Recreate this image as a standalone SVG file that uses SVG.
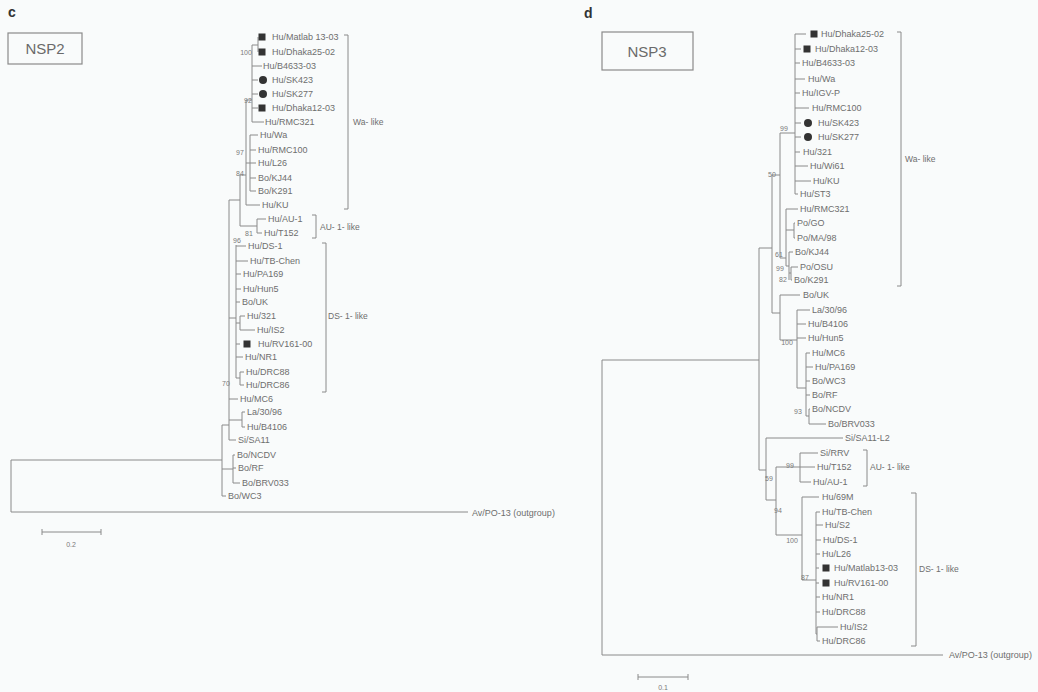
<svg xmlns="http://www.w3.org/2000/svg" width="1038" height="692" viewBox="0 0 1038 692">
<style>
.br{fill:none;stroke:#8a8a8a;stroke-width:1}
.bk{fill:none;stroke:#8a8a8a;stroke-width:1}
.lf{font-family:"Liberation Sans",Arial,sans-serif;font-size:9px;fill:#6e6e6e}
.bs{font-family:"Liberation Sans",Arial,sans-serif;font-size:7px;fill:#7a7a7a;text-anchor:middle}
.cl{font-family:"Liberation Sans",Arial,sans-serif;font-size:8.5px;fill:#6e6e6e}
.pl{font-family:"Liberation Sans",Arial,sans-serif;font-size:14px;font-weight:bold;fill:#333}
.tt{font-family:"Liberation Sans",Arial,sans-serif;font-size:15px;fill:#6a6a6a;text-anchor:middle}
.box{fill:none;stroke:#8a8a8a;stroke-width:1.2}
.sq{fill:#333}
.ci{fill:#333}
</style>
<defs>
<rect id="sqm" x="-3.5" y="-3.5" width="7" height="7" class="sq"/>
<circle id="cim" r="4" class="ci"/>
</defs>
<rect width="1038" height="692" fill="#f9fbfb"/>

<!-- Panel c -->
<g id="panel-c-title">
<text class="pl" x="8" y="17">c</text>
<rect class="box" x="8" y="33" width="74" height="31"/>
<text class="tt" x="45" y="54">NSP2</text>
</g>

<g id="connectors-c">
<path class="br" d="M11 460V512M11 460H222M11 512H468
M222 425V496M222 496H226M222 425H229M222 469H233
M229 200V440M229 440H236
M233 455V483M233 455H235M233 468H236M233 483H240
M229 200H240M240 175V226M240 175H246M240 226H257
M257 219V233M257 219H266M257 233H262
M246 100V205M246 100H252M246 163H250M246 205H260
M252 45V122M252 45H258M258 37V52M252 66H262M252 80H258M252 94H258M252 108H258M252 122H264
M250 135V191M250 135H258M250 150H256M250 163H256M250 178H256M250 191H256
M229 318H236M236 245V378M236 246H246M236 261H248M236 274H241M236 289H241M236 302H240
M236 323H240M240 316V330M240 316H245M240 330H255
M236 344H240M236 357H243M236 378H240M240 372V385M240 372H244M240 385H244
M229 399H238M229 420H242M242 412V427M242 412H245M242 427H245"/>
<path class="bk" d="M344 35H348V209H344M312 215H316V238H312M322 243H326V392H322"/>
<path class="br" d="M42 532H101M42 529V535M101 529V535"/>
</g>

<g id="leaves-c">
<g id="c-matlab"><use href="#sqm" x="262" y="37"/><text class="lf" x="272" y="40">Hu/Matlab 13-03</text></g>
<g id="c-dhaka25"><use href="#sqm" x="262" y="52"/><text class="lf" x="272" y="55">Hu/Dhaka25-02</text></g>
<g id="c-b4633"><text class="lf" x="263" y="69">Hu/B4633-03</text></g>
<g id="c-sk423"><use href="#cim" x="263" y="80"/><text class="lf" x="272" y="83">Hu/SK423</text></g>
<g id="c-sk277"><use href="#cim" x="263" y="94"/><text class="lf" x="272" y="97">Hu/SK277</text></g>
<g id="c-dhaka12"><use href="#sqm" x="262" y="108"/><text class="lf" x="272" y="111">Hu/Dhaka12-03</text></g>
<g id="c-rmc321"><text class="lf" x="265" y="125">Hu/RMC321</text></g>
<g id="c-wa"><text class="lf" x="260" y="138">Hu/Wa</text></g>
<g id="c-rmc100"><text class="lf" x="258" y="153">Hu/RMC100</text></g>
<g id="c-l26"><text class="lf" x="258" y="166">Hu/L26</text></g>
<g id="c-kj44"><text class="lf" x="258" y="181">Bo/KJ44</text></g>
<g id="c-k291"><text class="lf" x="258" y="194">Bo/K291</text></g>
<g id="c-ku"><text class="lf" x="262" y="208">Hu/KU</text></g>
<g id="c-au1"><text class="lf" x="268" y="222">Hu/AU-1</text></g>
<g id="c-t152"><text class="lf" x="264" y="236">Hu/T152</text></g>
<g id="c-ds1"><text class="lf" x="248" y="249">Hu/DS-1</text></g>
<g id="c-tb"><text class="lf" x="250" y="264">Hu/TB-Chen</text></g>
<g id="c-pa169"><text class="lf" x="243" y="277">Hu/PA169</text></g>
<g id="c-hun5"><text class="lf" x="243" y="292">Hu/Hun5</text></g>
<g id="c-uk"><text class="lf" x="242" y="305">Bo/UK</text></g>
<g id="c-321"><text class="lf" x="247" y="319">Hu/321</text></g>
<g id="c-is2"><text class="lf" x="257" y="333">Hu/IS2</text></g>
<g id="c-rv161"><use href="#sqm" x="247" y="344"/><text class="lf" x="258" y="347">Hu/RV161-00</text></g>
<g id="c-nr1"><text class="lf" x="245" y="360">Hu/NR1</text></g>
<g id="c-drc88"><text class="lf" x="246" y="375">Hu/DRC88</text></g>
<g id="c-drc86"><text class="lf" x="246" y="388">Hu/DRC86</text></g>
<g id="c-mc6"><text class="lf" x="240" y="402">Hu/MC6</text></g>
<g id="c-la30"><text class="lf" x="247" y="415">La/30/96</text></g>
<g id="c-b4106"><text class="lf" x="247" y="430">Hu/B4106</text></g>
<g id="c-sa11"><text class="lf" x="238" y="443">Si/SA11</text></g>
<g id="c-ncdv"><text class="lf" x="237" y="458">Bo/NCDV</text></g>
<g id="c-rf"><text class="lf" x="238" y="471">Bo/RF</text></g>
<g id="c-brv033"><text class="lf" x="242" y="486">Bo/BRV033</text></g>
<g id="c-wc3"><text class="lf" x="228" y="499">Bo/WC3</text></g>
<g id="c-po13"><text class="lf" x="472" y="516">Av/PO-13 (outgroup)</text></g>
</g>

<g id="labels-c">
<text class="bs" x="246" y="55">100</text>
<text class="bs" x="248" y="103">92</text>
<text class="bs" x="240" y="155">97</text>
<text class="bs" x="240" y="176">84</text>
<text class="bs" x="249" y="236">81</text>
<text class="bs" x="237" y="243">96</text>
<text class="bs" x="226" y="386">70</text>
<text class="cl" x="353" y="125">Wa- like</text>
<text class="cl" x="320" y="230">AU- 1- like</text>
<text class="cl" x="328" y="319">DS- 1- like</text>
<text class="bs" x="71" y="547">0.2</text>
</g>

<!-- Panel d -->
<g id="panel-d-title">
<text class="pl" x="584" y="18">d</text>
<rect class="box" x="602" y="32" width="91" height="38"/>
<text class="tt" x="647" y="57">NSP3</text>
</g>

<g id="connectors-d">
<path class="br" d="M602 360V655M602 360H759M602 655H943
M759 248V470M759 248H772M759 470H766
M772 175V313M772 175H780M772 313H780
M780 133V258M780 133H795M780 258H786
M795 34V194M795 34H806M795 49H801M795 63H800M795 79H805M795 93H800M795 108H809M795 123H801M795 137H801M795 152H800M795 166H808M795 181H811M795 194H798
M786 209V266M786 209H798M786 230H794M794 223V238M794 223H795M794 238H795
M786 266H789M789 252V280M789 252H793M789 273H791M791 267V280M791 267H798M791 280H792
M780 295V340M780 295H800M780 340H797
M797 310V388M797 310H810M797 324H806M797 338H806M797 388H806
M806 353V416M806 353H810M806 367H813M806 381H810M806 395H810M806 416H809
M809 409V424M809 409H810M809 424H826
M766 438V500M766 438H843M766 500H776
M776 467V535M776 467H800M776 535H802
M800 453V482M800 453H818M800 467H815M800 482H811
M802 497V580M802 497H819M802 580H816
M816 512V634M816 512H820M816 525H823M816 540H821M816 554H820M816 568H819M816 583H819M816 597H820M816 612H820M816 634H817
M817 627V641M817 627H838M817 641H820"/>
<path class="bk" d="M897 32H901V286H897M863 450H867V486H863M911 493H916V646H911"/>
<path class="br" d="M638 677H688M638 674V680M688 674V680"/>
</g>

<g id="leaves-d">
<g id="d-dhaka25"><use href="#sqm" x="814" y="34"/><text class="lf" x="821" y="37">Hu/Dhaka25-02</text></g>
<g id="d-dhaka12"><use href="#sqm" x="807" y="49"/><text class="lf" x="815" y="52">Hu/Dhaka12-03</text></g>
<g id="d-b4633"><text class="lf" x="802" y="66">Hu/B4633-03</text></g>
<g id="d-wa"><text class="lf" x="808" y="82">Hu/Wa</text></g>
<g id="d-igvp"><text class="lf" x="802" y="96">Hu/IGV-P</text></g>
<g id="d-rmc100"><text class="lf" x="812" y="111">Hu/RMC100</text></g>
<g id="d-sk423"><use href="#cim" x="808" y="123"/><text class="lf" x="818" y="126">Hu/SK423</text></g>
<g id="d-sk277"><use href="#cim" x="808" y="137"/><text class="lf" x="818" y="140">Hu/SK277</text></g>
<g id="d-321"><text class="lf" x="803" y="155">Hu/321</text></g>
<g id="d-wi61"><text class="lf" x="810" y="169">Hu/Wi61</text></g>
<g id="d-ku"><text class="lf" x="813" y="184">Hu/KU</text></g>
<g id="d-st3"><text class="lf" x="800" y="197">Hu/ST3</text></g>
<g id="d-rmc321"><text class="lf" x="800" y="212">Hu/RMC321</text></g>
<g id="d-go"><text class="lf" x="797" y="226">Po/GO</text></g>
<g id="d-ma"><text class="lf" x="797" y="241">Po/MA/98</text></g>
<g id="d-kj44"><text class="lf" x="795" y="255">Bo/KJ44</text></g>
<g id="d-osu"><text class="lf" x="800" y="270">Po/OSU</text></g>
<g id="d-k291"><text class="lf" x="794" y="283">Bo/K291</text></g>
<g id="d-uk"><text class="lf" x="803" y="298">Bo/UK</text></g>
<g id="d-la30"><text class="lf" x="812" y="313">La/30/96</text></g>
<g id="d-b4106"><text class="lf" x="808" y="327">Hu/B4106</text></g>
<g id="d-hun5"><text class="lf" x="808" y="341">Hu/Hun5</text></g>
<g id="d-mc6"><text class="lf" x="812" y="356">Hu/MC6</text></g>
<g id="d-pa169"><text class="lf" x="815" y="370">Hu/PA169</text></g>
<g id="d-wc3"><text class="lf" x="812" y="384">Bo/WC3</text></g>
<g id="d-rf"><text class="lf" x="812" y="398">Bo/RF</text></g>
<g id="d-ncdv"><text class="lf" x="812" y="412">Bo/NCDV</text></g>
<g id="d-brv033"><text class="lf" x="828" y="427">Bo/BRV033</text></g>
<g id="d-sa11"><text class="lf" x="845" y="441">Si/SA11-L2</text></g>
<g id="d-rrv"><text class="lf" x="820" y="456">Si/RRV</text></g>
<g id="d-t152"><text class="lf" x="817" y="470">Hu/T152</text></g>
<g id="d-au1"><text class="lf" x="813" y="485">Hu/AU-1</text></g>
<g id="d-69m"><text class="lf" x="822" y="500">Hu/69M</text></g>
<g id="d-tb"><text class="lf" x="822" y="515">Hu/TB-Chen</text></g>
<g id="d-s2"><text class="lf" x="825" y="528">Hu/S2</text></g>
<g id="d-ds1"><text class="lf" x="823" y="543">Hu/DS-1</text></g>
<g id="d-l26"><text class="lf" x="822" y="557">Hu/L26</text></g>
<g id="d-matlab"><use href="#sqm" x="826" y="568"/><text class="lf" x="834" y="571">Hu/Matlab13-03</text></g>
<g id="d-rv161"><use href="#sqm" x="826" y="583"/><text class="lf" x="834" y="586">Hu/RV161-00</text></g>
<g id="d-nr1"><text class="lf" x="822" y="600">Hu/NR1</text></g>
<g id="d-drc88"><text class="lf" x="822" y="615">Hu/DRC88</text></g>
<g id="d-is2"><text class="lf" x="840" y="630">Hu/IS2</text></g>
<g id="d-drc86"><text class="lf" x="822" y="644">Hu/DRC86</text></g>
<g id="d-po13"><text class="lf" x="949" y="658">Av/PO-13 (outgroup)</text></g>
</g>

<g id="labels-d">
<text class="bs" x="784" y="131">99</text>
<text class="bs" x="772" y="177">50</text>
<text class="bs" x="779" y="257">61</text>
<text class="bs" x="780" y="271">99</text>
<text class="bs" x="783" y="282">82</text>
<text class="bs" x="787" y="345">100</text>
<text class="bs" x="798" y="414">93</text>
<text class="bs" x="790" y="468">99</text>
<text class="bs" x="769" y="481">59</text>
<text class="bs" x="778" y="513">94</text>
<text class="bs" x="792" y="543">100</text>
<text class="bs" x="805" y="580">87</text>
<text class="cl" x="905" y="162">Wa- like</text>
<text class="cl" x="870" y="470">AU- 1- like</text>
<text class="cl" x="919" y="572">DS- 1- like</text>
<text class="bs" x="663" y="690">0.1</text>
</g>
</svg>
